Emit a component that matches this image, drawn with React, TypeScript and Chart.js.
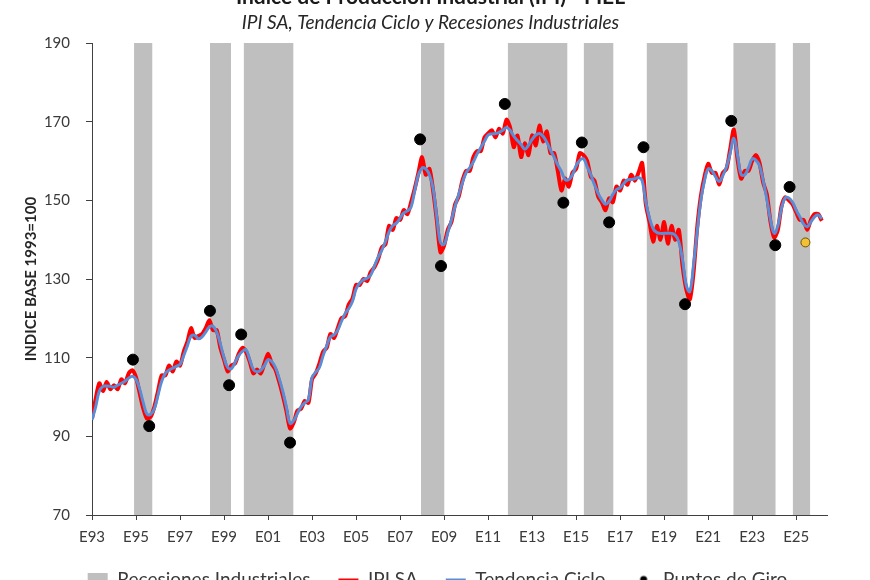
import React, { useEffect, useRef } from 'react';
import { Chart, registerables } from 'chart.js';

Chart.register(...registerables);

// Series sampled every two months starting January 1993
const startYear = 1993;
const stepsPerYear = 6;

const ipiSA = [
  94.5, 99.5, 103.5, 101.5, 103.8, 102.0,
  103.0, 102.0, 104.5, 103.5, 106.0, 106.8,
  105.0, 101.0, 97.0, 94.5, 95.0, 97.5,
  101.5, 105.5, 105.5, 108.0, 106.5, 109.0,
  108.0, 111.5, 114.0, 117.5, 115.0, 115.5,
  116.0, 117.5, 119.5, 117.0, 117.0, 112.5,
  109.5, 106.5, 108.0, 108.5, 111.0, 112.5,
  111.5, 109.0, 106.0, 107.0, 106.0, 108.5,
  111.0, 108.5, 107.0, 104.0, 100.5, 96.5,
  92.0, 93.5, 96.5, 97.0, 99.0, 98.5,
  104.5, 106.0, 108.5, 111.5, 112.5, 116.0,
  115.0, 117.5, 120.0, 120.5, 123.5, 125.0,
  128.5, 128.5, 130.0, 129.5, 131.8, 133.0,
  135.0, 138.0, 138.8, 143.5, 142.5, 145.5,
  145.0, 147.5, 146.5, 149.5, 153.0, 157.0,
  161.0, 156.5, 158.0, 152.5, 145.0, 136.8,
  138.5, 142.5, 144.5, 149.0, 151.0, 155.0,
  157.5, 157.5, 161.0, 162.5, 162.5, 166.0,
  167.0, 167.8, 166.0, 168.2, 167.0, 170.5,
  168.5, 163.5, 166.5, 161.0, 164.5, 161.5,
  166.5, 164.0, 169.0, 165.0, 167.5, 162.0,
  162.0, 157.5, 152.5, 155.5, 153.5, 157.0,
  158.0, 162.0, 161.5, 160.0, 156.0, 155.0,
  151.0, 149.5, 147.5, 150.5, 149.5, 153.5,
  152.5, 155.0, 154.0, 156.5, 155.0, 157.0,
  159.5, 149.0, 144.5, 139.5, 143.5, 140.0,
  144.5, 139.0, 143.5, 140.0, 142.5, 133.5,
  127.5, 124.8, 131.5, 143.0, 151.0, 156.0,
  159.3, 157.0, 157.0, 154.0, 157.0, 158.0,
  163.0, 168.0, 160.5, 155.5, 157.5, 157.5,
  160.0, 161.5, 159.5, 154.5, 151.5, 144.5,
  140.5, 142.5, 148.5, 150.8, 150.0, 149.0,
  147.0, 145.0, 145.0, 142.5, 145.0, 146.5,
  146.5, 144.8,
];

const tendenciaCiclo = [
  94.2, 97.5, 101.5, 102.7, 102.8, 102.7,
  102.5, 103.0, 103.5, 104.0, 104.8, 105.3,
  104.5, 102.0, 98.5, 95.6, 95.6, 97.0,
  100.5, 104.0, 106.0, 106.8, 107.3, 107.8,
  108.3, 110.5, 113.0, 115.5, 115.7, 114.8,
  115.3, 116.5, 117.8, 118.0, 116.5, 113.5,
  110.0, 107.5, 107.2, 108.8, 110.5, 111.6,
  112.0, 109.5, 107.0, 106.4, 106.8, 108.0,
  109.5, 109.0, 107.5, 104.8, 101.5, 97.5,
  93.3, 94.0, 95.8, 97.5, 98.5, 99.3,
  105.0, 106.3, 107.5, 110.5, 113.0, 115.3,
  115.8, 117.0, 119.2, 121.2, 122.5, 124.3,
  127.5, 129.0, 129.8, 130.2, 131.0, 133.3,
  135.5, 137.3, 139.5, 142.0, 143.6, 144.2,
  145.5, 146.8, 147.3, 148.3, 152.5, 156.5,
  158.2, 158.0, 156.5, 153.0, 145.8, 139.3,
  138.8, 141.8, 145.0, 148.5, 151.5, 154.5,
  157.0, 158.3, 159.8, 161.8, 163.4, 165.0,
  166.6, 166.9, 167.0, 167.3, 167.8, 168.5,
  167.8, 166.3, 165.2, 164.2, 163.0, 164.0,
  165.5, 166.6, 167.0, 166.3, 164.8, 162.8,
  161.0, 159.0, 157.3, 155.3, 155.3, 156.5,
  158.8, 160.2, 160.6, 158.6, 156.5, 154.0,
  151.8, 150.1, 149.0, 149.8, 151.5, 152.7,
  153.2, 154.3, 155.2, 155.3, 155.5, 155.8,
  155.0, 149.5, 145.5, 142.8, 141.8, 141.6,
  141.6, 141.6, 141.6, 141.2, 139.5, 135.0,
  128.5, 126.8, 133.5, 142.0, 150.0, 155.0,
  158.0, 157.5, 156.0, 154.8, 156.3, 158.5,
  162.0, 165.8, 161.5, 156.5, 156.5, 158.3,
  160.5, 160.2, 158.8, 155.0, 150.3, 145.0,
  141.6, 143.5, 148.0, 150.6, 150.6, 149.5,
  147.5, 145.8, 144.0, 143.3, 144.5, 145.8,
  146.3, 145.3,
];

// Industrial recessions (decimal years)
const recesionInicio = [1994.91, 1998.36, 1999.89, 2007.95, 2011.89, 2015.34, 2018.2, 2022.14, 2024.84];
const recesionFin = [1995.75, 1999.32, 2002.16, 2009.02, 2014.61, 2016.7, 2020.07, 2024.07, 2025.64];

// Turning points (last one still provisional)
const giroFechas = [1994.86, 1995.6, 1998.36, 1999.23, 1999.78, 2002.0, 2007.91, 2008.86, 2011.76, 2014.42, 2015.26, 2016.5, 2018.06, 2019.95, 2022.05, 2024.05, 2024.7, 2025.42];
const giroValores = [109.5, 92.6, 121.9, 103.0, 115.9, 88.4, 165.5, 133.3, 174.5, 149.4, 164.7, 144.4, 163.5, 123.6, 170.2, 138.6, 153.4, 139.3];

const tickYears = [1993, 1995, 1997, 1999, 2001, 2003, 2005, 2007, 2009, 2011, 2013, 2015, 2017, 2019, 2021, 2023, 2025];
const tickLabels = ['E93', 'E95', 'E97', 'E99', 'E01', 'E03', 'E05', 'E07', 'E09', 'E11', 'E13', 'E15', 'E17', 'E19', 'E21', 'E23', 'E25'];

const Y_MIN = 70;
const Y_MAX = 190;

const FONT = 'Lato, "Open Sans", sans-serif';
const TEXT = '#3a3a3a';
const AXIS = '#404040';

function toPoints(values: number[]) {
  return values.map((v, i) => ({ x: startYear + i / stepsPerYear, y: v }));
}

// Nudges the title, subtitle and legend blocks: the legend row sits closer
// to the axis (keeping wide gaps between items) and the blocks are centred
// on the page rather than on the padded layout width.
const blockNudge = {
  id: 'blockNudge',
  afterLayout(chart: any) {
    chart.boxes.forEach((box: any) => {
      if (box.axis) return;
      if (box === chart.legend) {
        box.top -= 12;
        box.bottom -= 12;
        box.left += 24;
        box.right += 24;
      } else if (box.position === 'top' || (box.options && box.options.position === 'top')) {
        box.left += 17;
        box.right += 17;
      }
    });
  },
};

export default function App() {
  const canvasRef = useRef<HTMLCanvasElement | null>(null);

  useEffect(() => {
    const canvas = canvasRef.current;
    if (!canvas) return;

    const bandas: { x: number; y: number | null }[] = [];
    recesionInicio.forEach((s, i) => {
      bandas.push({ x: s, y: Y_MAX }, { x: recesionFin[i], y: Y_MAX }, { x: recesionFin[i], y: null });
    });

    const giros = giroFechas.map((x, i) => ({ x, y: giroValores[i] }));
    const last = giros.length - 1;

    const dotIcon = document.createElement('canvas');
    dotIcon.width = 10;
    dotIcon.height = 10;
    const dctx = dotIcon.getContext('2d');
    if (dctx) {
      dctx.fillStyle = '#000';
      dctx.beginPath();
      dctx.arc(5, 5, 3.5, 0, Math.PI * 2);
      dctx.fill();
    }

    const chart = new Chart(canvas, {
      type: 'line',
      data: {
        datasets: [
          {
            label: 'Puntos de Giro',
            data: giros,
            showLine: false,
            order: 0,
            pointRadius: giros.map((_, i) => (i === last ? 4.5 : 5.5)),
            pointBackgroundColor: giros.map((_, i) => (i === last ? '#f2c037' : '#000000')),
            pointBorderColor: giros.map((_, i) => (i === last ? '#6b5200' : '#000000')),
            pointBorderWidth: 1,
          },
          {
            label: 'Tendencia Ciclo',
            data: toPoints(tendenciaCiclo),
            order: 1,
            borderColor: '#5a8dd6',
            backgroundColor: '#5a8dd6',
            borderWidth: 3,
            pointRadius: 0,
            tension: 0.4,
          },
          {
            label: 'IPI SA',
            data: toPoints(ipiSA),
            order: 2,
            borderColor: '#ff0000',
            backgroundColor: '#ff0000',
            borderWidth: 4,
            pointRadius: 0,
            tension: 0.25,
          },
          {
            label: 'Recesiones Industriales',
            data: bandas,
            order: 3,
            borderWidth: 0,
            borderColor: 'rgba(0,0,0,0)',
            backgroundColor: '#bfbfbf',
            fill: 'start',
            pointRadius: 0,
            spanGaps: false,
            tension: 0,
          },
        ],
      },
      plugins: [blockNudge],
      options: {
        animation: false,
        responsive: true,
        maintainAspectRatio: false,
        layout: { padding: { left: 0, right: 43, top: 0, bottom: 0 } },
        scales: {
          x: {
            type: 'linear',
            min: startYear,
            max: 2026.4,
            afterBuildTicks: (scale: any) => {
              scale.ticks = tickYears.map((v) => ({ value: v }));
            },
            ticks: {
              autoSkip: false,
              maxRotation: 0,
              padding: 8,
              color: TEXT,
              font: { family: FONT, size: 15 },
              callback: (_v: any, i: number) => tickLabels[i],
            },
            grid: { display: true, drawOnChartArea: false, drawTicks: true, tickLength: 5, color: AXIS },
            border: { display: true, color: AXIS, width: 1 },
          },
          y: {
            min: Y_MIN,
            max: Y_MAX,
            afterFit: (scale: any) => {
              scale.width = 92;
            },
            ticks: {
              stepSize: 20,
              padding: 16,
              color: TEXT,
              font: { family: FONT, size: 15 },
            },
            grid: { display: true, drawOnChartArea: false, drawTicks: true, tickLength: 6, color: AXIS },
            border: { display: true, color: AXIS, width: 1 },
            title: {
              display: true,
              text: 'INDICE BASE 1993=100',
              color: '#262626',
              font: { family: FONT, size: 15, weight: 'bold' },
              padding: { top: 22, bottom: 0 },
            },
          },
        },
        plugins: {
          title: {
            display: true,
            text: 'Índice de Producción Industrial (IPI) - FIEL',
            color: '#1a1a1a',
            font: { family: FONT, size: 21, weight: 'bold' },
            padding: { top: 1, bottom: 1 },
          },
          subtitle: {
            display: true,
            text: 'IPI SA, Tendencia Ciclo y Recesiones Industriales',
            color: '#262626',
            font: { family: FONT, size: 19, style: 'italic' },
            padding: { top: 0, bottom: 9 },
          },
          legend: {
            display: true,
            position: 'bottom',
            reverse: true,
            labels: {
              color: TEXT,
              font: { family: FONT, size: 19 },
              usePointStyle: true,
              pointStyleWidth: 20,
              boxHeight: 13,
              padding: 28,
              generateLabels: (ch: any) => {
                const items = Chart.defaults.plugins.legend.labels.generateLabels(ch);
                return items.map((it: any) => {
                  const ds = ch.data.datasets[it.datasetIndex];
                  if (ds.label === 'Recesiones Industriales') {
                    return { ...it, pointStyle: 'rect', fillStyle: '#bfbfbf', strokeStyle: '#bfbfbf', lineWidth: 0 };
                  }
                  if (ds.label === 'Puntos de Giro') {
                    return { ...it, pointStyle: dotIcon };
                  }
                  return { ...it, pointStyle: 'line', strokeStyle: ds.borderColor, lineWidth: 2 };
                });
              },
            },
          },
          tooltip: { enabled: false },
        },
      },
    } as any);

    return () => chart.destroy();
  }, []);

  return (
    <div style={{ position: 'fixed', left: 0, top: 0, width: 870, height: 580, overflow: 'hidden', background: '#ffffff' }}>
      <div style={{ position: 'absolute', left: 0, top: -16, width: 870, height: 627 }}>
        <canvas ref={canvasRef} />
      </div>
    </div>
  );
}
